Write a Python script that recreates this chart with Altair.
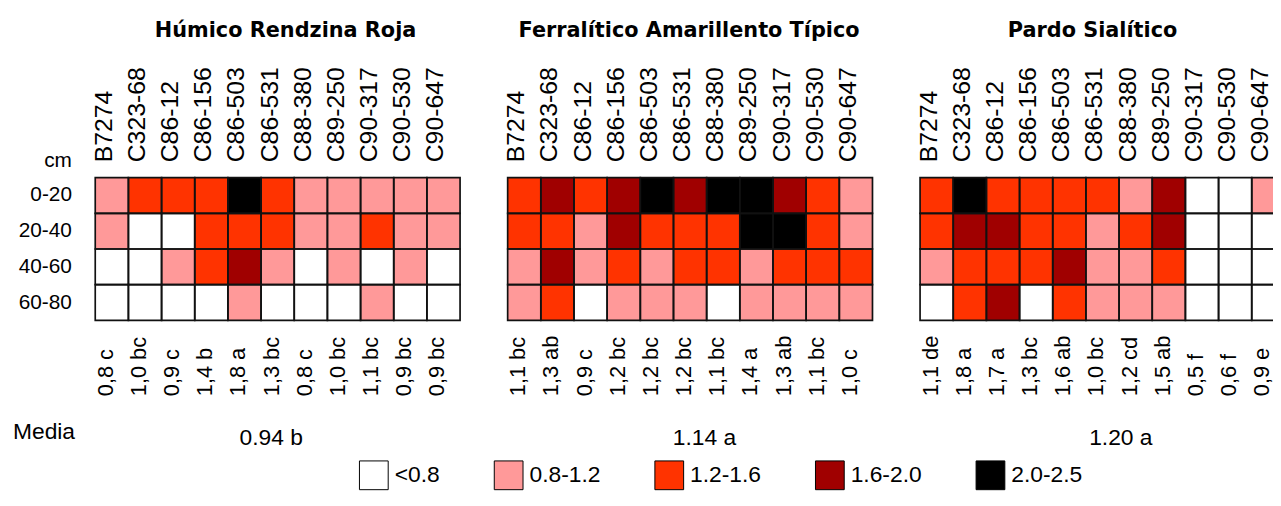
import altair as alt
import pandas as pd

clones = ["B7274", "C323-68", "C86-12", "C86-156", "C86-503", "C86-531",
          "C88-380", "C89-250", "C90-317", "C90-530", "C90-647"]
depths = ["0-20", "20-40", "40-60", "60-80"]
classes = ["<0.8", "0.8-1.2", "1.2-1.6", "1.6-2.0", "2.0-2.5"]
colors = ["#FFFFFF", "#FF9999", "#FF3300", "#A00000", "#000000"]

titles = ["Húmico Rendzina Roja", "Ferralítico Amarillento Típico", "Pardo Sialítico"]
means = ["0.94 b", "1.14 a", "1.20 a"]

# class index per depth (0 = <0.8, 1 = 0.8-1.2, 2 = 1.2-1.6, 3 = 1.6-2.0, 4 = 2.0-2.5)
humico = [
    [1, 2, 2, 2, 4, 2, 1, 1, 1, 1, 1],
    [1, 0, 0, 2, 2, 2, 1, 1, 2, 1, 1],
    [0, 0, 1, 2, 3, 1, 0, 1, 0, 1, 0],
    [0, 0, 0, 0, 1, 0, 0, 0, 1, 0, 0],
]
ferralitico = [
    [2, 3, 2, 3, 4, 3, 4, 4, 3, 2, 1],
    [2, 2, 1, 3, 2, 2, 2, 4, 4, 2, 1],
    [1, 3, 1, 2, 1, 2, 2, 1, 2, 2, 2],
    [1, 2, 0, 1, 1, 1, 0, 1, 1, 1, 1],
]
pardo = [
    [2, 4, 2, 2, 2, 2, 1, 3, 0, 0, 1],
    [2, 3, 3, 2, 2, 1, 2, 3, 0, 0, 0],
    [1, 2, 2, 2, 3, 1, 1, 2, 0, 0, 0],
    [0, 2, 3, 0, 2, 1, 1, 1, 0, 0, 0],
]

labels_humico = ["0,8 c", "1,0 bc", "0,9 c", "1,4 b", "1,8 a", "1,3 bc",
                 "0,8 c", "1,0 bc", "1,1 bc", "0,9 bc", "0,9 bc"]
labels_ferralitico = ["1,1 bc", "1,3 ab", "0,9 c", "1,2 bc", "1,2 bc", "1,2 bc",
                      "1,1 bc", "1,4 a", "1,3 ab", "1,1 bc", "1,0 c"]
labels_pardo = ["1,1 de", "1,8 a", "1,7 a", "1,3 bc", "1,6 ab", "1,0 bc",
                "1,2 cd", "1,5 ab", "0,5 f", "0,6 f", "0,9 e"]

grids = [humico, ferralitico, pardo]
bottom_labels = [labels_humico, labels_ferralitico, labels_pardo]

W, H = 368, 144
title_dx = [8, -1, -10]
mean_x = [177, 198, 202]
FONT = "Liberation Sans"

color_scale = alt.Scale(domain=classes, range=colors)
legend = alt.Legend(
    orient="none", legendX=266, legendY=285, direction="horizontal", title=None,
    symbolType="square", symbolSize=841, symbolStrokeColor="black",
    symbolStrokeWidth=1, symbolOpacity=1, labelFontSize=23, labelFont=FONT,
    labelColor="black", columnPadding=52, labelOffset=6,
)


def panel(i):
    rows = []
    for d, row in zip(depths, grids[i]):
        for c, k in zip(clones, row):
            rows.append({"clon": c, "prof": d, "clase": classes[k]})
    df = pd.DataFrame(rows)
    arr_c = "[" + ",".join("'%s'" % c for c in clones) + "]"
    arr_l = "[" + ",".join("'%s'" % l for l in bottom_labels[i]) + "]"
    expr = "%s[indexof(%s, datum.value)]" % (arr_l, arr_c)

    xsc = alt.Scale(domain=clones, paddingInner=0, paddingOuter=0)
    ysc = alt.Scale(domain=depths, paddingInner=0, paddingOuter=0)
    if i == 0:
        yaxis = alt.Axis(
            orient="left", ticks=False, domain=False, labelPadding=24,
            labelFontSize=21, labelFont=FONT, labelColor="black",
            title="cm", titleAngle=0, titleAlign="right", titleBaseline="alphabetic",
            titleX=-24, titleY=-11, titleFontSize=21, titleFont=FONT,
            titleFontWeight="normal", titleColor="black",
        )
    else:
        yaxis = None

    base = alt.Chart(df)
    fill = base.mark_rect(strokeWidth=0).encode(
        x=alt.X("clon:N", scale=xsc, sort=clones, axis=alt.Axis(
            orient="bottom", labelExpr=expr, labelAngle=270, labelAlign="left",
            labelBaseline="middle", labelPadding=76, labelOffset=-6,
            ticks=False, domain=False,
            labelFontSize=22, labelFont=FONT, labelColor="black",
            title=means[i], titleFontSize=23, titleFont=FONT, titleFontWeight="normal",
            titleColor="black", titlePadding=31, titleX=mean_x[i],
        )),
        y=alt.Y("prof:N", scale=ysc, sort=depths, axis=yaxis),
        color=alt.Color("clase:N", scale=color_scale, legend=legend),
    )
    grid = base.mark_rect(fill=None, stroke="#111111", strokeWidth=1.7).encode(
        x=alt.X("clon:N", scale=xsc, sort=clones, axis=alt.Axis(
            orient="top", labelAngle=270, ticks=False, domain=False, labelPadding=16,
            labelOffset=-8,
            labelFontSize=25, labelFont=FONT, labelColor="black", title=None,
        )),
        y=alt.Y("prof:N", scale=ysc, sort=depths, axis=yaxis),
    )
    layers = [fill, grid]
    if i == 0:
        media = alt.Chart(pd.DataFrame({"t": ["Media"]})).mark_text(
            align="left", baseline="middle", fontSize=23, font=FONT, color="black"
        ).encode(text="t:N", x=alt.value(-83), y=alt.value(257))
        layers.append(media)
    return alt.layer(*layers).resolve_axis(x="independent").properties(
        width=W, height=H,
        title=alt.TitleParams(titles[i], font="DejaVu Sans", fontSize=21,
                              fontWeight="bold", anchor="middle", color="black",
                              offset=26, dx=title_dx[i]),
    )


# the right-hand panel runs past the page edge, as in the source figure
chart = alt.hconcat(panel(0), panel(1), panel(2), spacing=43).properties(
    padding={"left": 5, "top": 10, "right": -13, "bottom": 0}
).configure_view(stroke=None)

chart.save("out.html", embed_options={"renderer": "svg", "actions": False})
